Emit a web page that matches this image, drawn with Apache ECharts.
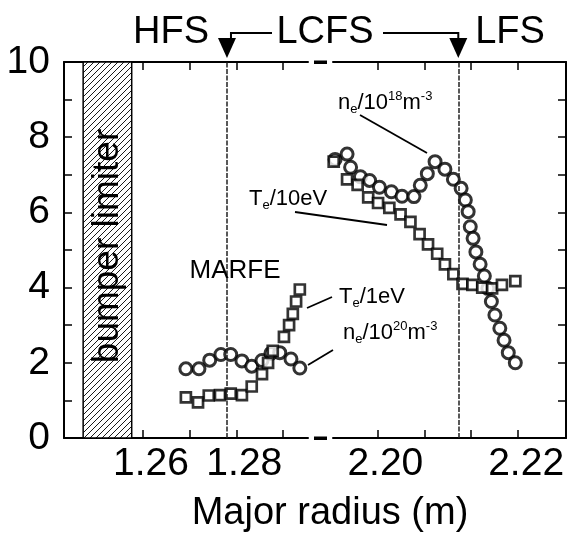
<!DOCTYPE html>
<html>
<head>
<meta charset="utf-8">
<script src="https://cdn.jsdelivr.net/npm/echarts@6/dist/echarts.min.js"></script>
<style>
  html, body { margin: 0; padding: 0; background: #fff; }
  #chart { width: 568px; height: 538px; }
</style>
</head>
<body>
<div id="chart"></div>
<script>
// HFS side (left part of the broken axis)
const hfsX_ne = [1.2692, 1.2720, 1.2743, 1.2767, 1.2788, 1.2812, 1.2833, 1.2855, 1.2874, 1.2893, 1.2917, 1.2936];
const hfsY_ne = [1.84, 1.84, 2.07, 2.22, 2.22, 2.05, 1.91, 2.06, 2.25, 2.27, 2.10, 1.86];
const hfsX_te = [1.2692, 1.2718, 1.2741, 1.2765, 1.2788, 1.2812, 1.2833, 1.2855, 1.2868, 1.2878, 1.2902, 1.2913, 1.2921, 1.2928, 1.2936];
const hfsY_te = [1.08, 0.95, 1.13, 1.14, 1.18, 1.14, 1.37, 1.70, 2.00, 2.32, 2.69, 3.00, 3.30, 3.63, 3.95];

// LFS side (right part)
const lfsX_ne = [2.1940, 2.1957, 2.1962, 2.1976, 2.1989, 2.2003, 2.2020, 2.2035, 2.2052, 2.2061, 2.2071, 2.2082, 2.2096, 2.2108, 2.2119,
  2.2125, 2.2129, 2.2132, 2.2136, 2.2140, 2.2146, 2.2152, 2.2157, 2.2162, 2.2167, 2.2174, 2.2180, 2.2186, 2.2196];
const lfsY_ne = [7.41, 7.55, 7.20, 6.95, 6.85, 6.67, 6.55, 6.43, 6.42, 6.72, 7.03, 7.35, 7.15, 6.88, 6.64,
  6.33, 6.02, 5.62, 5.31, 4.95, 4.62, 4.31, 3.98, 3.63, 3.27, 2.92, 2.60, 2.27, 2.00];
const lfsX_te = [2.1938, 2.1957, 2.1972, 2.1987, 2.2001, 2.2017, 2.2033, 2.2047, 2.2060, 2.2072, 2.2085, 2.2096, 2.2108, 2.2121,
  2.2135, 2.2149, 2.2163, 2.2177, 2.2196];
const lfsY_te = [7.35, 6.88, 6.73, 6.40, 6.25, 6.12, 5.95, 5.75, 5.42, 5.15, 4.90, 4.62, 4.36, 4.10,
  4.07, 4.00, 3.98, 4.07, 4.17];

const hfsTicks = [1.26, 1.27, 1.28, 1.29];
const hfsLabels = [1.26, 1.28];
const lfsTicks = [2.20, 2.20667, 2.21333, 2.22];
const lfsLabels = [2.20, 2.22];
const yLabels = [0, 2, 4, 6, 8, 10];

const lcfsHfs = 1.2780;
const lcfsLfs = 2.2115;
const bumper = [1.2472, 1.2576];

const FONT = "'Liberation Sans', Arial, Helvetica, sans-serif";

function zip(xs, ys) {
  return xs.map((x, i) => [x, ys[i]]);
}

// hatch pattern for the bumper limiter
function hatch() {
  const c = document.createElement("canvas");
  c.width = 6;
  c.height = 6;
  const ctx = c.getContext("2d");
  ctx.fillStyle = "#fff";
  ctx.fillRect(0, 0, 6, 6);
  ctx.strokeStyle = "#000";
  ctx.lineWidth = 0.9;
  ctx.beginPath();
  ctx.moveTo(0, 6); ctx.lineTo(6, 0);
  ctx.moveTo(-3, 3); ctx.lineTo(3, -3);
  ctx.moveTo(3, 9); ctx.lineTo(9, 3);
  ctx.stroke();
  return c;
}

function xAxisOf(grid, min, max, ticks, labels, pos) {
  return {
    type: "value",
    gridIndex: grid,
    position: pos,
    min: min,
    max: max,
    axisLine: { show: true, onZero: false, lineStyle: { color: "#000", width: 2 } },
    axisTick: { show: true, inside: true, length: 8, customValues: ticks, lineStyle: { color: "#000", width: 1.5 } },
    axisLabel: {
      show: pos === "bottom",
      customValues: labels,
      formatter: v => v.toFixed(2),
      color: "#000",
      fontFamily: FONT,
      fontSize: 39,
      margin: 7,
      padding: [0, 0, 0, 16]
    },
    splitLine: { show: false }
  };
}

function yAxisOf(grid, pos) {
  return {
    type: "value",
    gridIndex: grid,
    position: pos,
    min: 0,
    max: 10,
    interval: 1,
    axisLine: { show: true, lineStyle: { color: "#000", width: 2 } },
    axisTick: { show: true, inside: true, length: 8, lineStyle: { color: "#000", width: 1.5 } },
    axisLabel: {
      show: pos === "left",
      customValues: yLabels,
      color: "#000",
      fontFamily: FONT,
      fontSize: 39,
      margin: 14
    },
    splitLine: { show: false }
  };
}

const circleStyle = { color: "#fff", borderColor: "#000", borderWidth: 3 };
const squareStyle = { color: "#fff", borderColor: "#000", borderWidth: 2.7 };

function lcfsLine(x) {
  return {
    symbol: "none",
    silent: true,
    precision: 5,
    label: { show: false },
    lineStyle: { color: "#222", width: 1.5, type: [5, 1.5] },
    data: [{ xAxis: x }]
  };
}

const chart = echarts.init(document.getElementById("chart"));

chart.setOption({
  animation: false,
  backgroundColor: "#fff",
  grid: [
    { left: 64, right: 260, top: 62, bottom: 100 },
    { left: 333, right: 2, top: 62, bottom: 100 }
  ],
  xAxis: [
    xAxisOf(0, 1.2431, 1.29535, hfsTicks, hfsLabels, "bottom"),
    xAxisOf(0, 1.2431, 1.29535, hfsTicks, hfsLabels, "top"),
    xAxisOf(1, 2.1937, 2.2268, lfsTicks, lfsLabels, "bottom"),
    xAxisOf(1, 2.1937, 2.2268, lfsTicks, lfsLabels, "top")
  ],
  yAxis: [yAxisOf(0, "left"), yAxisOf(1, "right")],
  series: [
    {
      name: "ne20",
      type: "scatter",
      xAxisIndex: 0,
      yAxisIndex: 0,
      clip: false,
      symbol: "circle",
      symbolSize: 12,
      itemStyle: circleStyle,
      data: zip(hfsX_ne, hfsY_ne),
      markLine: lcfsLine(lcfsHfs),
      markArea: {
        silent: true,
        itemStyle: { color: { image: hatch(), repeat: "repeat" }, borderColor: "#000", borderWidth: 1.5 },
        data: [[{ xAxis: bumper[0] }, { xAxis: bumper[1] }]]
      }
    },
    {
      name: "te1",
      type: "scatter",
      xAxisIndex: 0,
      yAxisIndex: 0,
      clip: false,
      symbol: "rect",
      symbolSize: 10,
      itemStyle: squareStyle,
      data: zip(hfsX_te, hfsY_te)
    },
    {
      name: "ne18",
      type: "scatter",
      xAxisIndex: 2,
      yAxisIndex: 1,
      clip: false,
      symbol: "circle",
      symbolSize: 12,
      itemStyle: circleStyle,
      data: zip(lfsX_ne, lfsY_ne),
      markLine: lcfsLine(lcfsLfs)
    },
    {
      name: "te10",
      type: "scatter",
      xAxisIndex: 2,
      yAxisIndex: 1,
      clip: false,
      symbol: "rect",
      symbolSize: 10,
      itemStyle: squareStyle,
      data: zip(lfsX_te, lfsY_te)
    }
  ]
});

// annotations: labels, leader lines, LCFS arrows, axis break
const xl = chart.convertToPixel({ xAxisIndex: 0 }, lcfsHfs);
const xr = chart.convertToPixel({ xAxisIndex: 2 }, lcfsLfs);
const yTop = chart.convertToPixel({ yAxisIndex: 0 }, 10);
const yBot = chart.convertToPixel({ yAxisIndex: 0 }, 0);
const bx = (chart.convertToPixel({ xAxisIndex: 0 }, bumper[0]) + chart.convertToPixel({ xAxisIndex: 0 }, bumper[1])) / 2;

const rich = {
  a: { fontFamily: FONT, fontSize: 22, lineHeight: 26, color: "#000" },
  b: { fontFamily: FONT, fontSize: 13, lineHeight: 13, verticalAlign: "bottom", color: "#000" },
  c: { fontFamily: FONT, fontSize: 13, lineHeight: 13, verticalAlign: "top", color: "#000" }
};

function richText(x, y, text) {
  return {
    type: "text",
    x: x,
    y: y,
    z: 100,
    style: { text: text, rich: rich, align: "left", verticalAlign: "middle" }
  };
}

function bigText(x, y, text, size) {
  return {
    type: "text",
    x: x,
    y: y,
    z: 100,
    style: { text: text, font: size + "px " + FONT, fill: "#000", align: "center", verticalAlign: "middle" }
  };
}

function seg(pts, w) {
  return { type: "polyline", z: 100, shape: { points: pts }, style: { stroke: "#000", lineWidth: w || 1.8, fill: null } };
}

function head(x, y) {
  return {
    type: "polygon",
    z: 100,
    shape: { points: [[x - 9, y - 20], [x + 9, y - 20], [x, y]] },
    style: { fill: "#000" }
  };
}

chart.setOption({
  graphic: [
    bigText(171, 33, "HFS", 38),
    bigText(325, 33, "LCFS", 38),
    bigText(510, 33, "LFS", 38),
    seg([[272, 33], [xl + 4, 33], [xl + 4, 42]], 2),
    head(xl, yTop - 4),
    seg([[383, 33], [xr, 33], [xr, 42]], 2),
    head(xr, yTop - 4),
    // axis break dashes
    { type: "rect", z: 100, shape: { x: 314, y: yTop - 1.5, width: 13, height: 3.5 }, style: { fill: "#000" } },
    { type: "rect", z: 100, shape: { x: 314, y: yBot - 1.5, width: 13, height: 3.5 }, style: { fill: "#000" } },
    {
      type: "text",
      x: bx,
      y: 246,
      z: 100,
      rotation: Math.PI / 2,
      style: { text: "bumper limiter", font: "37px " + FONT, fill: "#000", align: "center", verticalAlign: "middle" }
    },
    bigText(235, 271, "MARFE", 26),
    richText(338, 103, "{a|n}{b|e}{a|/10}{c|18}{a|m}{c|-3}"),
    seg([[360, 115], [427, 153]]),
    richText(249, 199, "{a|T}{b|e}{a|/10eV}"),
    seg([[295, 212], [387, 225]]),
    richText(339, 297, "{a|T}{b|e}{a|/1eV}"),
    seg([[307, 308], [332, 297]]),
    richText(343, 333, "{a|n}{b|e}{a|/10}{c|20}{a|m}{c|-3}"),
    seg([[308, 365], [333, 350]]),
    bigText(330, 514, "Major radius (m)", 38)
  ]
});
</script>
</body>
</html>
